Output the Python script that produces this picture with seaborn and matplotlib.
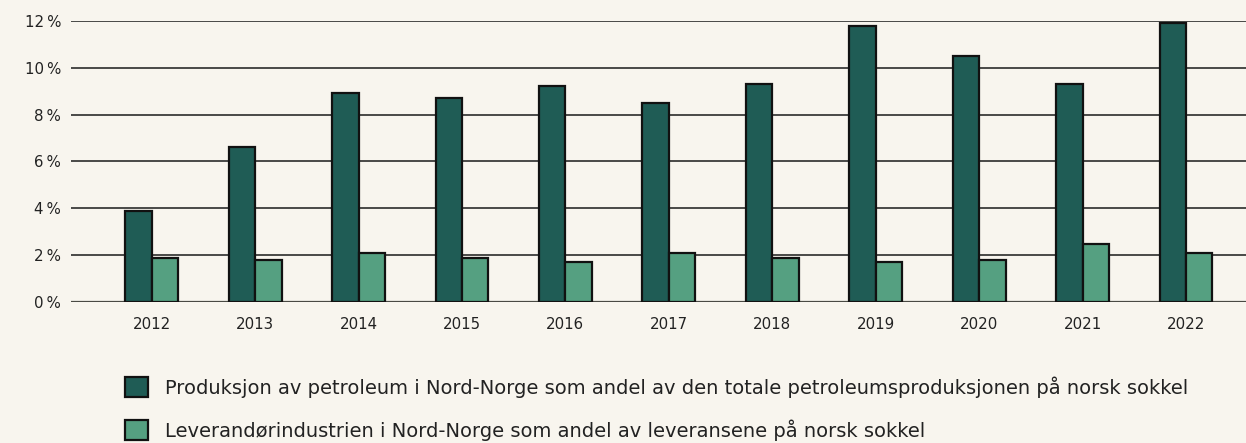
import matplotlib
matplotlib.use("Agg")
import matplotlib.pyplot as plt
import seaborn as sns
import pandas as pd
from matplotlib.patches import Patch

years = ["2012", "2013", "2014", "2015", "2016", "2017", "2018", "2019", "2020", "2021", "2022"]
produksjon = [3.9, 6.6, 8.9, 8.7, 9.2, 8.5, 9.3, 11.8, 10.5, 9.3, 11.9]
leverandor = [1.9, 1.8, 2.1, 1.9, 1.7, 2.1, 1.9, 1.7, 1.8, 2.5, 2.1]
series_names = [
    "Produksjon av petroleum i Nord-Norge som andel av den totale petroleumsproduksjonen på norsk sokkel",
    "Leverandørindustrien i Nord-Norge som andel av leveransene på norsk sokkel",
]
colors = ["#1f5c55", "#55a081"]
yticks = [0, 2, 4, 6, 8, 10, 12]

df = pd.DataFrame({
    "year": years * 2,
    "value": produksjon + leverandor,
    "series": [series_names[0]] * len(years) + [series_names[1]] * len(years),
})

bg = "#f8f5ee"
sns.set_theme(style="white")
plt.rcParams["font.family"] = ["DejaVu Sans"]

fig = plt.figure(figsize=(12.46, 4.43), dpi=100, facecolor=bg)
ax = fig.add_axes([0.057, 0.318, 0.943, 0.635])
ax.set_facecolor(bg)

sns.barplot(data=df, x="year", y="value", hue="series", palette=colors,
            width=0.51, gap=0, edgecolor="#111111", linewidth=1.6,
            saturation=1, ax=ax, legend=False, zorder=3)

ax.set_ylim(0, 12)
ax.set_xlim(-0.78, 10.58)
ax.set_yticks(yticks)
ax.set_yticklabels([f"{t}\u2009%" for t in yticks])
for t in yticks:
    if t == 0:
        ax.axhline(t, color="#4a4a44", lw=1.6, zorder=1)
    else:
        ax.axhline(t, color="#1a1a1a", lw=1.1, zorder=1)
for s in ax.spines.values():
    s.set_visible(False)
ax.tick_params(axis="both", length=0, labelsize=10.8, colors="#222222")
ax.tick_params(axis="y", pad=7)
ax.tick_params(axis="x", pad=11)
ax.set_xlabel("")
ax.set_ylabel("")

handles = [Patch(facecolor=c, edgecolor="#111111", linewidth=1.6) for c in colors]
fig.legend(handles, series_names, loc="upper left", bbox_to_anchor=(0.1003, 0.151),
           frameon=False, fontsize=14.05, handlelength=1.18, handleheight=1.18,
           handletextpad=0.88, labelspacing=1.12, borderaxespad=0, borderpad=0,
           labelcolor="#222222")

fig.savefig("out.png", dpi=100, facecolor=bg)
